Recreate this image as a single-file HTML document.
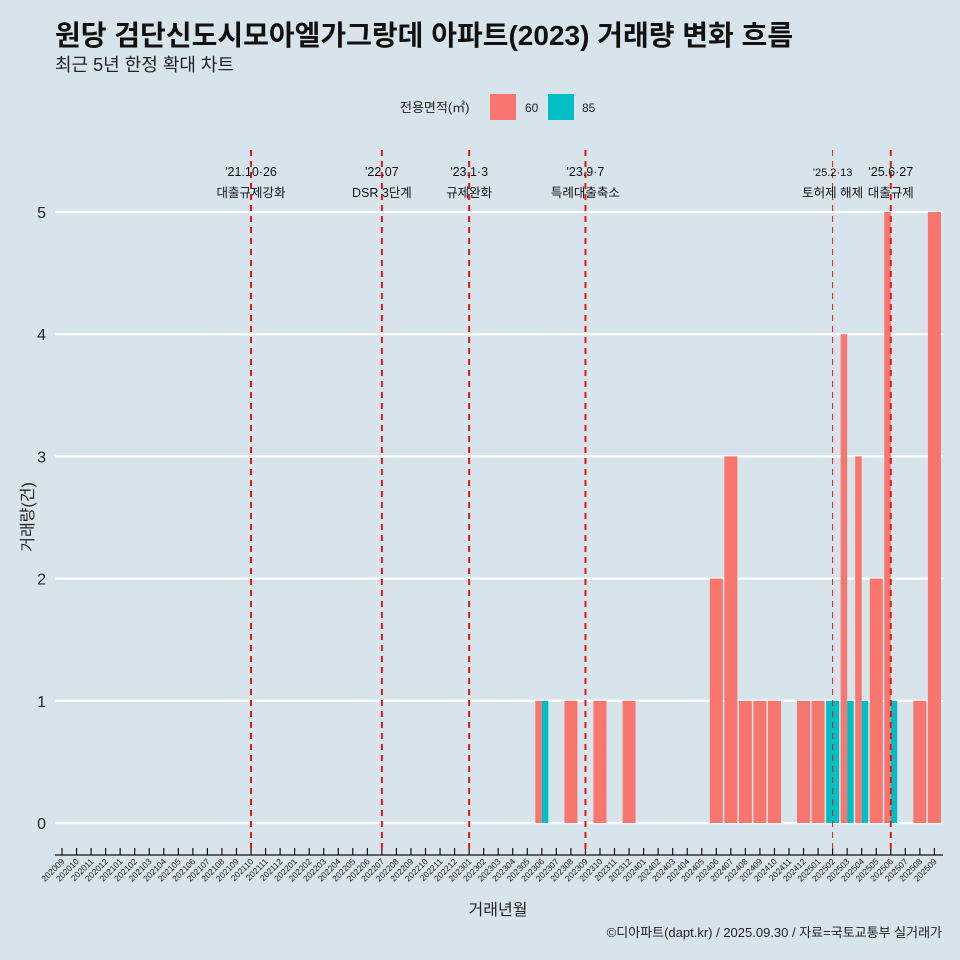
<!DOCTYPE html>
<html><head><meta charset="utf-8"><style>
body{margin:0;background:#d7e4eb;}
svg{display:block;font-family:"Liberation Sans","Noto Sans CJK KR",sans-serif;}
</style></head><body>
<svg id="c" width="960" height="960" viewBox="0 0 960 960">
<rect width="960" height="960" fill="#d7e4eb"/>
<text x="55" y="45" font-size="28" font-weight="bold" fill="#111">원당 검단신도시모아엘가그랑데 아파트(2023) 거래량 변화 흐름</text>
<text x="55" y="71" font-size="18" fill="#222">최근 5년 한정 확대 차트</text>
<g>
<text x="400" y="112" font-size="13" fill="#222">전용면적(㎡)</text>
<rect x="490" y="94" width="26" height="26" fill="#f8766d"/>
<text x="525" y="112" font-size="12" fill="#222">60</text>
<rect x="548" y="94" width="26" height="26" fill="#00bfc4"/>
<text x="582" y="112" font-size="12" fill="#222">85</text>
</g>
<g id="plot"></g>
<text x="498" y="915" font-size="16" text-anchor="middle" fill="#222">거래년월</text>
<text x="33" y="517" font-size="16" text-anchor="middle" fill="#222" transform="rotate(-90 33 517)">거래량(건)</text>
<text x="942" y="937" font-size="13" text-anchor="end" fill="#222">©디아파트(dapt.kr) / 2025.09.30 / 자료=국토교통부 실거래가</text>
</svg>
<script>
const months = [];
for (let y = 2020, m = 9; !(y === 2025 && m === 10); ) { months.push(String(y) + String(m).padStart(2, '0')); m++; if (m > 12) { m = 1; y++; } }
const series60Months = ['202306','202308','202310','202312','202406','202407','202408','202409','202410','202412','202501','202503','202504','202505','202506','202508','202509'];
const series60Values = [1,1,1,1,2,3,1,1,1,1,1,4,3,2,5,1,5];
const series85Months = ['202306','202502','202503','202504','202506'];
const series85Values = [1,1,1,1,1];
const yTicks = [0,1,2,3,4,5];
const eventMonths = ['202110','202207','202301','202309','202502','202506'];
const eventLine1 = ["'21.10·26","'22.07","'23.1·3","'23.9·7","'25.2·13","'25.6·27"];
const eventLine2 = ['대출규제강화','DSR 3단계','규제완화','특례대출축소','토허제 해제','대출규제'];

const NS = 'http://www.w3.org/2000/svg';
const g = document.getElementById('plot');
const X0 = 62, STEP = 14.54, Y0 = 823, YU = 122.2, BW = 13;
const xs = m => X0 + months.indexOf(m) * STEP;
const ys = v => Y0 - v * YU;
function mk(tag, attrs) { const e = document.createElementNS(NS, tag); for (const k in attrs) e.setAttribute(k, attrs[k]); g.appendChild(e); return e; }

yTicks.forEach(t => {
  const l = mk('line', {x1: 55, x2: 943, y1: ys(t), y2: ys(t), stroke: '#fff', 'stroke-width': 2.2});
  
  
  const tx = mk('text', {x: 46, y: ys(t) + 6, 'font-size': 16, 'text-anchor': 'end', fill: '#222'});
  tx.textContent = t;
  
  
});

function drawBar(m, v, color, off, w, name) {
  const r = mk('rect', {x: xs(m) + off, y: ys(v), width: w, height: v * YU, fill: color});
  
  
}
series60Months.forEach((m, i) => {
  const both = series85Months.includes(m);
  drawBar(m, series60Values[i], '#f8766d', -BW / 2, both ? BW / 2 : BW, 'bar-60-' + m);
});
series85Months.forEach((m, i) => {
  const both = series60Months.includes(m);
  drawBar(m, series85Values[i], '#00bfc4', both ? 0 : -BW / 2, both ? BW / 2 : BW, 'bar-85-' + m);
});

const ax = mk('line', {x1: 55, x2: 943, y1: 855, y2: 855, stroke: '#111', 'stroke-width': 1.2});


months.forEach(m => {
  const x = xs(m);
  const t = mk('line', {x1: x, x2: x, y1: 848, y2: 855, stroke: '#111', 'stroke-width': 1.2});
  
  
  const tx = mk('text', {x: x + 3, y: 862, 'font-size': 8.5, 'text-anchor': 'end', fill: '#222', transform: `rotate(-45 ${x + 3} 862)`});
  tx.textContent = m;
  
  
});

eventMonths.forEach((m, i) => {
  const x = xs(m);
  const thin = m === '202502';
  const l = mk('line', {x1: x, x2: x, y1: 150, y2: 852, stroke: '#e8141c', 'stroke-width': thin ? 1 : 2, 'stroke-dasharray': '6,5'});
  
  
  const t1 = mk('text', {x: x, y: 176, 'font-size': thin ? 11 : 12.5, 'text-anchor': 'middle', fill: '#111'});
  t1.textContent = eventLine1[i];
  
  
  const t2 = mk('text', {x: x, y: 197, 'font-size': 12.5, 'text-anchor': 'middle', fill: '#111'});
  t2.textContent = eventLine2[i];
  
  
});
</script>
</body></html>
